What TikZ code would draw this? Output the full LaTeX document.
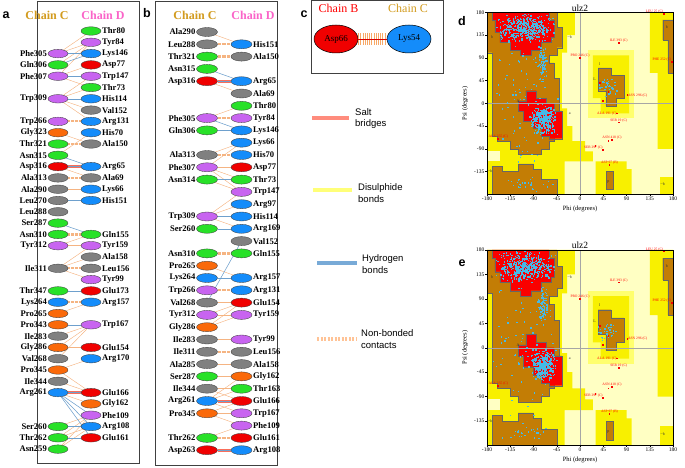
\documentclass[tikz,border=0pt]{standalone}
\usepackage{fontspec}
\setmainfont{Liberation Serif}
\setsansfont{Liberation Sans}
\usetikzlibrary{shapes.geometric,backgrounds}
\definecolor{resgrn}{RGB}{40,225,40}
\definecolor{resvio}{RGB}{200,100,240}
\definecolor{resblu}{RGB}{20,140,250}
\definecolor{resred}{RGB}{240,0,0}
\definecolor{resgry}{RGB}{128,128,128}
\definecolor{resorg}{RGB}{250,105,10}
\definecolor{chainC}{RGB}{210,155,30}
\definecolor{chainD}{RGB}{250,100,200}
\definecolor{nbcol}{RGB}{245,180,130}
\definecolor{hbcol}{RGB}{110,160,205}
\definecolor{sbcol}{RGB}{250,110,90}
\definecolor{ramapale}{RGB}{255,255,195}
\definecolor{ramayel}{RGB}{248,240,0}
\definecolor{ramalt}{RGB}{255,255,110}
\definecolor{ramabrn}{RGB}{195,125,5}
\definecolor{ramared}{RGB}{250,0,0}
\definecolor{ptcol}{RGB}{70,185,230}

% one cloud of residues: count, phi, spread, psi, spread
\newcommand{\ramacloud}[5]{%
  \foreach \i in {1,...,#1}{%
    \pgfmathsetmacro\px{#2+#3*(rand+rand)}%
    \pgfmathsetmacro\py{#4+#5*(rand+rand)}%
    \fill[rpt] (\px,\py) +(-0.7pt,-0.7pt) rectangle +(0.7pt,0.7pt);
  }}

% Ramachandran plot in degree units, #1 = seed
\newcommand{\ramaplot}[1]{%
  \fill[ramapale] (-180,-180) rectangle (180,180);
  % generous regions
  \fill[ramayel] (-180,180) -- (-10,180) -- (-10,135) -- (-25,135) -- (-25,100) -- (-35,100) -- (-35,-10) -- (-25,-10) -- (-25,-45) -- (-15,-45) -- (-15,-75) -- (10,-75) -- (10,-95) -- (25,-95) -- (25,-115) -- (-30,-115) -- (-30,-180) -- (-180,-180) -- cycle;
  \fill[ramapale] (-180,-95) rectangle (-155,-115);
  \fill[ramayel] (135,180) -- (180,180) -- (180,-90) -- (150,-90) -- (150,60) -- (135,60) -- cycle;
  \fill[ramalt] (15,105) rectangle (105,-30);
  \fill[ramayel] (25,95) -- (95,95) -- (95,-20) -- (40,-20) -- (40,10) -- (25,10) -- cycle;
  \fill[ramayel] (30,-115) -- (90,-115) -- (90,-130) -- (100,-130) -- (100,-180) -- (30,-180) -- cycle;
  \fill[ramayel] (155,-145) rectangle (180,-180);
  % allowed regions
  \filldraw[fill=ramabrn, draw=black!60, line width=0.3pt] (-180,180) -- (-45,180) -- (-45,150) -- (-35,150) -- (-35,110) -- (-45,110) -- (-45,95) -- (-60,95) -- (-60,80) -- (-50,80) -- (-50,50) -- (-40,50) -- (-40,-25) -- (-45,-25) -- (-45,-55) -- (-50,-55) -- (-50,-75) -- (-60,-75) -- (-60,-90) -- (-75,-90) -- (-75,-100) -- (-120,-100) -- (-120,-90) -- (-135,-90) -- (-135,-75) -- (-160,-75) -- (-160,-65) -- (-170,-65) -- (-170,100) -- (-180,100) -- cycle;
  \filldraw[fill=ramabrn, draw=black!60, line width=0.3pt] (-170,-180) -- (-45,-180) -- (-45,-150) -- (-75,-150) -- (-75,-130) -- (-90,-130) -- (-90,-120) -- (-120,-120) -- (-120,-135) -- (-150,-135) -- (-150,-125) -- (-170,-125) -- cycle;
  \filldraw[fill=ramabrn, draw=black!60, line width=0.3pt] (160,165) -- (180,165) -- (180,60) -- (170,60) -- (170,125) -- (160,125) -- cycle;
  \filldraw[fill=ramabrn, draw=black!60, line width=0.3pt] (35,70) -- (60,70) -- (60,55) -- (85,55) -- (85,10) -- (70,10) -- (70,-5) -- (50,-5) -- (50,25) -- (35,25) -- cycle;
  \filldraw[fill=ramabrn, draw=black!60, line width=0.3pt] (50,-135) rectangle (65,-170);
  % core regions
  \filldraw[fill=ramared, draw=black!60, line width=0.3pt] (-170,180) -- (-60,180) -- (-60,165) -- (-50,165) -- (-50,130) -- (-55,130) -- (-55,120) -- (-75,120) -- (-75,105) -- (-95,105) -- (-95,95) -- (-115,95) -- (-115,105) -- (-135,105) -- (-135,120) -- (-155,120) -- (-155,140) -- (-165,140) -- (-165,165) -- (-170,165) -- cycle;
  \filldraw[fill=ramared, draw=black!60, line width=0.3pt] (-105,25) -- (-85,25) -- (-85,10) -- (-65,10) -- (-65,0) -- (-50,0) -- (-50,-15) -- (-35,-15) -- (-35,-70) -- (-60,-70) -- (-60,-65) -- (-75,-65) -- (-75,-50) -- (-90,-50) -- (-90,-35) -- (-110,-35) -- (-110,-15) -- (-120,-15) -- (-120,5) -- (-105,5) -- cycle;
  \draw[black!35, line width=0.3pt] (-180,0) -- (180,0) (0,-180) -- (0,180);
  \foreach \x/\y/\t in {-170/130/b, -120/5/A, -20/-20/a, -20/130/\textasciitilde b, 38/78/l, 28/48/L, 168/150/b, 55/-155/p, -174/-135/\textasciitilde b, 160/-160/\textasciitilde b}
    \node[rlet] at (\x,\y) {\t};
  \begin{scope}
    \clip (-180,-180) rectangle (180,180);
    \pgfmathsetseed{#1}
    \ramacloud{420}{-105}{30}{148}{15}
    \ramacloud{280}{-70}{13}{-33}{15}
    \ramacloud{70}{-72}{5}{75}{20}
    \ramacloud{80}{-105}{35}{0}{75}
    \ramacloud{30}{55}{10}{30}{10}
    \ramacloud{25}{-100}{30}{-160}{8}
  \end{scope}
  % labelled outliers
  \foreach \x/\y/\t/\a in {162/177/{LEU 25 (C)}/south east, 75/120/{ILE 393 (C)}/south, 0/90/{PRO 246 (C)}/south, 178/82/{PHE 252 (C)}/south east, 92/16/{ASN 296 (C)}/west, 72/-20/{ALA 191 (C)}/east, 75/-38/{SER 19 (C)}/south, 62/-72/{ASN 418 (C)}/south, 45/-92/{SER 297 (C)}/south east, 57/-122/{ASP 97 (B)}/south, -158/-70/{ALA 355 (C)}/south}
    {\fill[ramared] (\x,\y) +(-0.9pt,-0.9pt) rectangle +(0.9pt,0.9pt);
     \node[olab, anchor=\a] at (\x,\y) {\t};}
  \foreach \x/\y in {38/40, 55/22, 45/5, 30/-85, 55/-75}
    \fill[ramared] (\x,\y) +(-0.9pt,-0.9pt) rectangle +(0.9pt,0.9pt);
  % frame and axes
  \draw[line width=0.4pt] (-180,-180) rectangle (180,180);
  \foreach \v in {-180,-135,...,180}{
    \draw[line width=0.3pt] (\v,-180) -- ++(0,-2pt);
    \node[rtick, anchor=north, yshift=-2.5pt] at (\v,-180) {\v};}
  \foreach \v in {-135,-90,...,180}{
    \draw[line width=0.3pt] (-180,\v) -- ++(-2pt,0);
    \node[rtick, anchor=east, xshift=-2.5pt] at (-180,\v) {\v};}
  \node[ramatitle, anchor=south] at (0,180) {ulz2};
  \node[raxis, anchor=north, yshift=-11pt] at (0,-180) {Phi (degrees)};
  \node[raxis, rotate=90] at ([xshift=-22pt]-180,0) {Psi (degrees)};
}

\begin{document}
\begin{tikzpicture}[x=1pt,y=-1pt]
\tikzset{
  res/.style={ellipse, draw=black!75, line width=0.35pt, minimum width=20pt, minimum height=8.5pt, inner sep=0pt},
  resb/.style={res, minimum width=21pt, minimum height=9pt},
  rlab/.style={font=\fontsize{8.6}{9}\selectfont\bfseries, inner sep=0.8pt},
  chainlab/.style={font=\fontsize{12}{13}\selectfont\bfseries},
  panel/.style={font=\fontsize{12.5}{13}\selectfont\sffamily\bfseries},
  nb/.style={draw=nbcol, line width=0.45pt},
  nbs/.style={draw=nbcol, line width=2.2pt, dash pattern=on 0.6pt off 0.7pt},
  hb/.style={draw=hbcol, line width=0.55pt},
  sb/.style={draw=sbcol, line width=0.55pt},
  legtxt/.style={font=\fontsize{9.5}{11.5}\selectfont\sffamily, align=left, inner sep=0pt, anchor=west},
  rpt/.style={fill=ptcol},
  rtick/.style={font=\fontsize{5.5}{6}\selectfont, inner sep=0pt},
  raxis/.style={font=\fontsize{6.5}{7}\selectfont, inner sep=0pt},
  ramatitle/.style={font=\fontsize{9.5}{10}\selectfont, inner sep=0.8pt},
  olab/.style={font=\fontsize{3.6}{4}\selectfont, text=red, inner sep=0.4pt},
  rlet/.style={font=\fontsize{4}{4}\selectfont, text=black!80, inner sep=0pt},
}
\useasboundingbox (0,0) rectangle (685,468);

% ---- panel a
\draw[black!75, line width=0.6pt] (37,1.5) rectangle (139.5,463);
\node[panel] (pa) at (6,15) {a};
\node[chainlab, text=chainC] (aCC) at (47,15) {Chain C};
\node[chainlab, text=chainD] (aCD) at (103,15) {Chain D};
\foreach \nm/\k/\col in {Phe305/2/resvio, Gln306/3/resgrn, Phe307/4/resvio, Trp309/6/resvio, Trp266/8/resvio, Gly323/9/resorg, Thr321/10/resgrn, Asn315/11/resgrn, Asp316/12/resred, Ala313/13/resgry, Ala290/14/resgry, Leu270/15/resgry, Leu288/16/resgry, Ser287/17/resgrn, Asn310/18/resgrn, Tyr312/19/resvio, Ile311/21/resgry, Thr347/23/resgrn, Lys264/24/resblu, Pro265/25/resorg, Pro343/26/resorg, Ile283/27/resgry, Gly286/28/resorg, Val268/29/resgry, Pro345/30/resorg, Ile344/31/resgry, Arg261/32/resblu, Ser260/35/resgrn, Thr262/36/resgrn, Asn259/37/resgrn}
  \node[res, fill=\col, label={[rlab]left:\nm}] (aL\nm) at (58,{31+11.3*\k}) {};
\foreach \nm/\k/\col in {Thr80/0/resgrn, Tyr84/1/resvio, Lys146/2/resblu, Asp77/3/resred, Trp147/4/resvio, Thr73/5/resgrn, His114/6/resblu, Val152/7/resgry, Arg131/8/resblu, His70/9/resblu, Ala150/10/resgry, Arg65/12/resblu, Ala69/13/resgry, Lys66/14/resblu, His151/15/resblu, Gln155/18/resgrn, Tyr159/19/resvio, Ala158/20/resgry, Leu156/21/resgry, Tyr99/22/resvio, Glu173/23/resred, Arg157/24/resblu, Trp167/26/resvio, Glu154/28/resred, Arg170/29/resblu, Glu166/32/resred, Gly162/33/resorg, Phe109/34/resvio, Arg108/35/resblu, Glu161/36/resred}
  \node[res, fill=\col, label={[rlab]right:\nm}] (aR\nm) at (91,{31+11.3*\k}) {};
\begin{pgfonlayer}{background}
\foreach \s/\t in {Phe305/Thr80, Phe305/Tyr84, Gln306/Tyr84, Phe307/Tyr84, Phe307/Asp77, Phe307/Thr73, Trp309/Trp147, Trp309/Thr73, Trp309/Val152, Trp309/Arg131, Gly323/Ala150, Asn315/His70, Asp316/Ala69, Ala290/Lys66, Tyr312/Tyr159, Tyr312/Gln155, Ile311/Tyr159, Ile311/Ala158, Ile311/Tyr99, Pro265/Arg157, Gly286/Trp167, Ile283/Trp167, Val268/Trp167, Gly286/Glu154, Pro345/Arg170, Pro345/Glu166, Ile344/Glu166, Arg261/Gly162, Ser260/Phe109, Thr262/Phe109, Asn259/Arg108, Asn259/Phe109, Thr262/Arg108}
  \draw[nb] (aL\s) -- (aR\t);
\foreach \s/\t in {Trp266/Arg131, Thr321/Ala150, Ala313/Ala69, Ile311/Leu156, Lys264/Arg157, Asn310/Gln155}
  \draw[nbs] (aL\s) -- (aR\t);
\foreach \s/\t in {Phe305/Lys146, Gln306/Lys146, Phe307/Trp147, Trp309/His114, Asn315/Arg65, Leu270/His151, Thr347/Glu173, Pro343/Trp167, Arg261/Arg108, Arg261/Glu161, Arg261/Phe109, Ser260/Arg108, Thr262/Glu161, Ser287/Gln155}
  \draw[hb] (aL\s) -- (aR\t);
\foreach \s/\t in {Asp316/Arg65, Arg261/Glu166}{
  \draw[sb] ([yshift=1pt]aL\s.east) -- ([yshift=1pt]aR\t.west);
  \draw[hb] (aL\s.east) -- (aR\t.west);
  \draw[sb] ([yshift=-1pt]aL\s.east) -- ([yshift=-1pt]aR\t.west);}
\end{pgfonlayer}

% ---- panel b
\draw[black!75, line width=0.6pt] (155.5,1.5) rectangle (277,465.5);
\node[panel] (pb) at (147,13) {b};
\node[chainlab, text=chainC] (bCC) at (195,15) {Chain C};
\node[chainlab, text=chainD] (bCD) at (253,15) {Chain D};
\foreach \nm/\k/\col in {Ala290/0/resgry, Leu288/1/resgry, Thr321/2/resgrn, Asn315/3/resgrn, Asp316/4/resred, Phe305/7/resvio, Gln306/8/resgrn, Ala313/10/resgry, Phe307/11/resvio, Asn314/12/resgrn, Trp309/15/resvio, Ser260/16/resgrn, Asn310/18/resgrn, Pro265/19/resorg, Lys264/20/resblu, Trp266/21/resvio, Val268/22/resgry, Tyr312/23/resvio, Gly286/24/resorg, Ile283/25/resgry, Ile311/26/resgry, Ala285/27/resgry, Ser287/28/resgrn, Ile344/29/resgry, Arg261/30/resblu, Pro345/31/resorg, Thr262/33/resgrn, Asp263/34/resred}
  \node[resb, fill=\col, label={[rlab]left:\nm}] (bL\nm) at (207,{32+12.3*\k}) {};
\foreach \nm/\k/\col in {His151/1/resblu, Ala150/2/resgry, Arg65/4/resblu, Ala69/5/resgry, Thr80/6/resgrn, Tyr84/7/resvio, Lys146/8/resblu, Lys66/9/resblu, His70/10/resblu, Asp77/11/resred, Thr73/12/resgrn, Trp147/13/resvio, Arg97/14/resblu, His114/15/resblu, Arg169/16/resblu, Val152/17/resgry, Gln155/18/resgrn, Arg157/20/resblu, Arg131/21/resblu, Glu154/22/resred, Tyr159/23/resvio, Tyr99/25/resvio, Leu156/26/resgry, Ala158/27/resgry, Gly162/28/resorg, Thr163/29/resgrn, Glu166/30/resred, Trp167/31/resvio, Phe109/32/resvio, Glu161/33/resred, Arg108/34/resblu}
  \node[resb, fill=\col, label={[rlab]right:\nm}] (bR\nm) at (241.5,{32+12.3*\k}) {};
\begin{pgfonlayer}{background}
\foreach \s/\t in {Ala290/His151, Asp316/Ala69, Phe305/Thr80, Ala313/Lys66, Phe307/Lys66, Phe307/Asp77, Phe307/Thr73, Phe307/Trp147, Asn314/Trp147, Trp309/Trp147, Trp309/Arg97, Trp309/Arg169, Pro265/Arg157, Val268/Glu154, Tyr312/Tyr159, Tyr312/Glu154, Gly286/Glu154, Gly286/Tyr159, Ile283/Tyr99, Ala285/Ala158, Ser287/Gly162, Ile344/Glu166, Ile344/Thr163, Arg261/Thr163, Arg261/Gly162, Arg261/Trp167, Pro345/Trp167, Pro345/Phe109, Pro345/Glu166, Thr262/Phe109}
  \draw[nb] (bL\s) -- (bR\t);
\foreach \s/\t in {Leu288/His151, Thr321/Ala150, Phe305/Tyr84, Ala313/His70, Trp266/Arg131, Ile311/Leu156, Asn310/Gln155, Thr262/Glu161}
  \draw[nbs] (bL\s) -- (bR\t);
\foreach \s/\t in {Asn315/Arg65, Phe305/Lys146, Gln306/Lys146, Asn314/Thr73, Trp309/His114, Ser260/Arg169, Val268/Val152, Lys264/Arg157}
  \draw[hb] (bL\s) -- (bR\t);
\foreach \s/\t in {Asp316/Arg65, Arg261/Glu166, Asp263/Arg108}{
  \draw[sb] ([yshift=1pt]bL\s.east) -- ([yshift=1pt]bR\t.west);
  \draw[hb] (bL\s.east) -- (bR\t.west);
  \draw[sb] ([yshift=-1pt]bL\s.east) -- ([yshift=-1pt]bR\t.west);}
\end{pgfonlayer}

% ---- panel c
\draw[black!75, line width=0.6pt] (311,0.5) rectangle (443,73);
\node[panel] (pc) at (304,14) {c};
\node[font=\fontsize{12}{13}\selectfont, text=red] (cCB) at (338.5,8) {Chain B};
\node[font=\fontsize{12}{13}\selectfont, text=chainC] (cCC) at (408,8) {Chain C};
\node[ellipse, draw=black, line width=0.5pt, fill=resred, minimum width=44pt, minimum height=28pt, inner sep=0pt, font=\fontsize{9}{10}\selectfont] (cAsp) at (336,39) {Asp66};
\node[ellipse, draw=black, line width=0.5pt, fill=resblu, minimum width=44pt, minimum height=28pt, inner sep=0pt, font=\fontsize{9}{10}\selectfont] (cLys) at (409,39) {Lys54};
\draw[draw=nbcol!80!orange, line width=12pt, dash pattern=on 0.7pt off 1.5pt] (cAsp) -- (cLys);
\draw[draw=red!85!black, line width=0.6pt] (cAsp) -- (cLys);

% ---- legend
\coordinate (salt1) at (312,118); \coordinate (salt2) at (349,118);
\coordinate (ss1) at (313,190); \coordinate (ss2) at (352,190);
\coordinate (hyd1) at (317,263); \coordinate (hyd2) at (357,263);
\coordinate (nbd1) at (317,339); \coordinate (nbd2) at (356,339);
\draw[draw={rgb,255:red,255;green,140;blue,125}, line width=4.5pt] (salt1) -- (salt2);
\draw[draw={rgb,255:red,255;green,255;blue,120}, line width=4.5pt] (ss1) -- (ss2);
\draw[draw={rgb,255:red,120;green,170;blue,215}, line width=4.5pt] (hyd1) -- (hyd2);
\draw[draw={rgb,255:red,255;green,195;blue,150}, line width=4.5pt, dash pattern=on 2.2pt off 1.3pt] (nbd1) -- (nbd2);
\node[legtxt] (salttxt) at (355,118.5) {Salt\\bridges};
\node[legtxt] (sstxt) at (358,193) {Disulphide\\bonds};
\node[legtxt] (hydtxt) at (362,264) {Hydrogen\\bonds};
\node[legtxt] (nbdtxt) at (361,339) {Non-bonded\\contacts};

% ---- panels d and e
\node[panel] (pd) at (462,21) {d};
\begin{scope}[shift={(580,103.3)}, x=0.5167pt, y=0.5056pt]
  \ramaplot{11}
\end{scope}
\node[panel] (pe) at (462,263) {e};
\begin{scope}[shift={(580,347.7)}, x=0.5167pt, y=0.543pt]
  \ramaplot{23}
\end{scope}
\end{tikzpicture}
\end{document}
